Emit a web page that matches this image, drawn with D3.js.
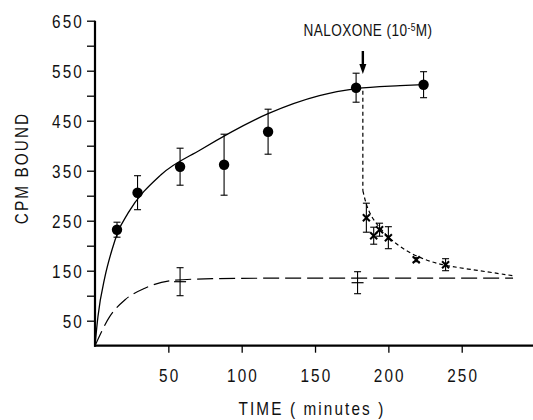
<!DOCTYPE html>
<html>
<head>
<meta charset="utf-8">
<script src="https://cdn.jsdelivr.net/npm/d3@7"></script>
<style>
  body { margin: 0; background: #fff; }
  svg { display: block; }
  text { font-family: "Liberation Sans", Arial, sans-serif; fill: #111; }
  .narrow { transform: scaleX(0.85); }
</style>
</head>
<body>
<div id="chart"></div>
<script>
// total binding (filled circles)
var totalTime = [15, 29, 58, 88, 118, 178, 224]
var totalCpm = [232, 306, 358, 362, 428, 516, 522]
var totalErr = [15, 34, 37, 61, 45, 29, 26]

// fitted curve through total binding
var totalCurveTime = [0, 2, 6.8, 11.6, 15.7, 22.5, 45, 72, 118, 153, 178, 208, 224]
var totalCurveCpm = [0, 58, 138, 192, 228, 265, 342, 392, 464, 500, 514, 520, 522]

// non specific binding (plus markers, long dashes)
var nonSpecTime = [58, 179]
var nonSpecCpm = [128, 126]
var nonSpecErr = [28, 22]
var nonSpecCurveTime = [0, 10, 20.5, 34, 54.5, 80, 120, 200, 285]
var nonSpecCurveCpm = [0, 58, 92, 115, 131, 134, 135, 135, 135]

// after naloxone (x markers, short dashes)
var naloxTime = [185, 190, 194, 200, 219, 239]
var naloxCpm = [256, 220, 232, 216, 172, 162]
var naloxErr = [29, 17, 13, 22, 4, 12]
var naloxCurveTime = [182.6, 182.6, 186, 194, 208, 230, 253, 285]
var naloxCurveCpm = [510, 310, 268, 234, 194, 164, 154, 140]

var naloxoneAt = 182.6

var yTicks = [50, 150, 250, 350, 450, 550, 650]
var yMinor = [100, 200, 300, 400, 500, 600]
var xTicks = [50, 100, 150, 200, 250]

var width = 533
var height = 420

var svg = d3.select("#chart")
  .append("svg")
  .attr("width", width)
  .attr("height", height)

var x = d3.scaleLinear().domain([0, 298.6]).range([95, 533])
var y = d3.scaleLinear().domain([0, 650]).range([345.7, 20.7])

// axes
var yAxis = d3.axisLeft(y).tickValues(yTicks).tickSize(8).tickFormat(d3.format("d"))
var gy = svg.append("g").attr("transform", "translate(" + x(0) + ",0)").call(yAxis)
gy.select(".domain").remove()
gy.selectAll("text")
  .attr("class", "narrow")
  .attr("x", -13).attr("dy", "0.36em")
  .style("font-size", "18px").style("letter-spacing", "2.5px")
svg.append("g").attr("transform", "translate(" + x(0) + ",0)")
  .call(d3.axisLeft(y).tickValues(yMinor).tickSize(8).tickFormat(""))
  .select(".domain").remove()
svg.append("line")
  .attr("x1", x(0)).attr("x2", x(0))
  .attr("y1", y(650)).attr("y2", y(0) + 1)
  .attr("stroke", "#000").attr("stroke-width", 2.2)

var xAxis = d3.axisBottom(x).tickValues(xTicks).tickSize(7)
var gx = svg.append("g").attr("transform", "translate(0," + y(0) + ")").call(xAxis)
gx.select(".domain").remove()
gx.selectAll("text")
  .attr("class", "narrow")
  .attr("y", 36).attr("dy", 0).attr("x", 1)
  .style("font-size", "18px").style("letter-spacing", "2.5px")
svg.selectAll(".tick line").attr("stroke", "#000").attr("stroke-width", 1.3)
svg.append("line")
  .attr("x1", x(0) - 1).attr("x2", width)
  .attr("y1", y(0)).attr("y2", y(0))
  .attr("stroke", "#000").attr("stroke-width", 2.2)

// axis titles
svg.append("g").attr("transform", "translate(312,415)")
  .append("text").attr("class", "narrow")
  .attr("text-anchor", "middle")
  .style("font-size", "18px").style("letter-spacing", "2.5px")
  .text("TIME  ( minutes )")
svg.append("g").attr("transform", "translate(28,168) rotate(-90)")
  .append("text").attr("class", "narrow")
  .attr("text-anchor", "middle")
  .style("font-size", "18px").style("letter-spacing", "2.5px")
  .text("CPM  BOUND")

function pts(ts, vs) { return ts.map(function (t, i) { return [t, vs[i]] }) }
var line = d3.line().x(function (d) { return x(d[0]) }).y(function (d) { return y(d[1]) })

// curves
svg.append("path")
  .attr("d", line.curve(d3.curveMonotoneX)(pts(totalCurveTime, totalCurveCpm)))
  .attr("fill", "none").attr("stroke", "#000").attr("stroke-width", 1.3)
svg.append("path")
  .attr("d", line.curve(d3.curveMonotoneX)(pts(nonSpecCurveTime, nonSpecCurveCpm)))
  .attr("fill", "none").attr("stroke", "#000").attr("stroke-width", 1.2)
  .attr("stroke-dasharray", "16,6")
var nal = pts(naloxCurveTime, naloxCurveCpm)
svg.append("path")
  .attr("d", line.curve(d3.curveLinear)(nal.slice(0, 2)))
  .attr("fill", "none").attr("stroke", "#000").attr("stroke-width", 1.2)
  .attr("stroke-dasharray", "4,3")
svg.append("path")
  .attr("d", line.curve(d3.curveBasis)(nal.slice(1)))
  .attr("fill", "none").attr("stroke", "#000").attr("stroke-width", 1.2)
  .attr("stroke-dasharray", "4,3")

// error bars
function errorBars(ts, vs, es) {
  var g = svg.append("g").attr("stroke", "#000").attr("stroke-width", 1.1)
  ts.forEach(function (t, i) {
    var cx = x(t), top = y(vs[i] + es[i]), bot = y(vs[i] - es[i])
    g.append("line").attr("x1", cx).attr("x2", cx).attr("y1", top).attr("y2", bot)
    g.append("line").attr("x1", cx - 3.5).attr("x2", cx + 3.5).attr("y1", top).attr("y2", top)
    g.append("line").attr("x1", cx - 3.5).attr("x2", cx + 3.5).attr("y1", bot).attr("y2", bot)
  })
  return g
}
errorBars(totalTime, totalCpm, totalErr)
errorBars(nonSpecTime, nonSpecCpm, nonSpecErr)
errorBars(naloxTime, naloxCpm, naloxErr)

// markers
svg.append("g").selectAll("circle")
  .data(pts(totalTime, totalCpm))
  .enter().append("circle")
  .attr("cx", function (d) { return x(d[0]) })
  .attr("cy", function (d) { return y(d[1]) })
  .attr("r", 5.2)
  .attr("fill", "#000")

svg.append("g").selectAll("line")
  .data(pts(nonSpecTime, nonSpecCpm))
  .enter().append("line")
  .attr("x1", function (d) { return x(d[0]) - 6 })
  .attr("x2", function (d) { return x(d[0]) + 6 })
  .attr("y1", function (d) { return y(d[1]) })
  .attr("y2", function (d) { return y(d[1]) })
  .attr("stroke", "#000").attr("stroke-width", 1.2)

var cross = svg.append("g").attr("stroke", "#000").attr("stroke-width", 2)
pts(naloxTime, naloxCpm).forEach(function (d) {
  var cx = x(d[0]), cy = y(d[1]), s = 3.5
  cross.append("line").attr("x1", cx - s).attr("x2", cx + s).attr("y1", cy - s).attr("y2", cy + s)
  cross.append("line").attr("x1", cx - s).attr("x2", cx + s).attr("y1", cy + s).attr("y2", cy - s)
})

// naloxone arrow and label
var ax = x(naloxoneAt)
svg.append("line")
  .attr("x1", ax).attr("x2", ax).attr("y1", 51).attr("y2", 66)
  .attr("stroke", "#000").attr("stroke-width", 2.4)
svg.append("path")
  .attr("d", "M" + (ax - 3.5) + ",64 L" + (ax + 3.5) + ",64 L" + ax + ",74 Z")
  .attr("fill", "#000")
var lab = svg.append("g").attr("transform", "translate(368,36)")
  .append("text").attr("class", "narrow")
  .attr("text-anchor", "middle")
  .style("font-size", "16px").style("letter-spacing", "0.5px")
lab.append("tspan").text("NALOXONE (10")
lab.append("tspan").attr("dy", -5).style("font-size", "10px").text("-5")
lab.append("tspan").attr("dy", 5).text("M)")
</script>
</body>
</html>
